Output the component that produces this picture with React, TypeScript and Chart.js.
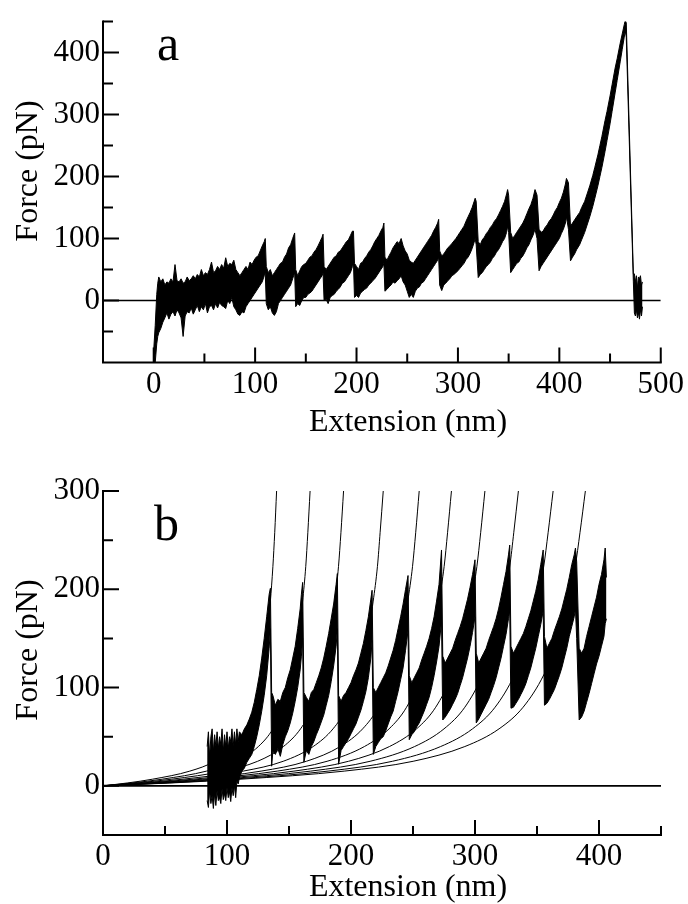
import React, { useEffect, useRef } from 'react';
import { Chart, registerables } from 'chart.js';

Chart.register(...registerables);

const SERIF = '"Liberation Serif", "Times New Roman", Times, serif';

// ---------- Panel a ----------
const A_X_RANGE = [-50, 500];
const A_Y_RANGE = [-100, 450];
const A_X_TICKS = [0, 100, 200, 300, 400, 500];
const A_X_MINOR = [50, 150, 250, 350, 450];
const A_Y_TICKS = [0, 100, 200, 300, 400];
const A_Y_MINOR = [-50, 50, 150, 250, 350, 450];
const A_ZERO_LINE = [-50, 500];

// [extension nm, lower edge pN, upper edge pN] of the noisy trace
const TRACE_A: [number, number, number][] = [
  [0, -100, -80], [1.5, -100, -40], [3, -70, 10], [4, -58, 28], [5, -52, 38], [7, -45, 30], [9, -35, 35],
  [11, -28, 25], [13, -20, 30], [15, -30, 28], [17, -22, 35], [19, -18, 30], [21, -25, 58], [23, -15, 32],
  [25, -20, 30], [27, -28, 35], [29, -58, 28], [31, -25, 30], [33, -18, 38], [35, -20, 32], [37, -12, 35],
  [39, -22, 40], [41, -15, 35], [43, -8, 42], [45, -18, 38], [47, -10, 50], [49, -15, 40], [51, -5, 45],
  [53, -20, 42], [55, -10, 50], [57, -8, 62], [59, -15, 45], [61, -5, 48], [63, -12, 55], [65, -3, 50],
  [67, -8, 58], [69, -10, 52], [71, -13, 69], [73, 0, 55], [75, -5, 60], [77, 5, 58], [79, -10, 65],
  [81, -15, 50], [83, -22, 45], [85, -24, 40], [87, -18, 45], [89, -20, 50], [91, -10, 55], [93, -5, 50],
  [95, 0, 62], [97, 5, 58], [99, 10, 65], [101, 15, 70], [103, 20, 72], [105, 25, 80], [107, 30, 88],
  [109, 40, 95], [110, 45, 100],
  [111, -5, 55], [113, -15, 45], [115, -10, 50], [117, -20, 40], [119, -24, 45], [121, -18, 50], [123, -5, 55],
  [125, 0, 60], [127, 5, 62], [129, 10, 70], [131, 15, 75], [133, 20, 85], [135, 25, 90], [137, 35, 100],
  [139, 45, 109],
  [140, -10, 50], [142, -5, 40], [144, -8, 48], [146, 0, 55], [148, 5, 58], [150, 5, 60], [152, 10, 65],
  [154, 12, 70], [156, 15, 72], [158, 20, 78], [160, 25, 82], [162, 30, 88], [164, 35, 95], [166, 40, 102],
  [167, 45, 107],
  [168, 0, 55], [170, 2, 50], [172, -5, 55], [174, 5, 60], [176, 8, 65], [178, 10, 70], [180, 15, 72],
  [182, 18, 78], [184, 22, 80], [186, 28, 85], [188, 30, 90], [190, 35, 95], [192, 40, 98], [194, 45, 105],
  [196, 55, 112], [197, 60, 112],
  [198, 5, 60], [200, 8, 55], [202, 5, 50], [204, 12, 60], [206, 15, 62], [208, 18, 68], [210, 20, 72],
  [212, 25, 78], [214, 28, 82], [216, 32, 88], [218, 35, 95], [220, 40, 100], [222, 45, 105], [224, 50, 112],
  [226, 55, 118], [227, 60, 125],
  [228, 15, 70], [230, 18, 65], [232, 22, 72], [234, 25, 78], [236, 30, 85], [238, 28, 90], [240, 32, 95],
  [242, 35, 92], [244, 40, 100], [246, 30, 88], [248, 25, 80], [250, 15, 75], [252, 5, 65], [254, 10, 62],
  [256, 5, 60], [258, 15, 65], [260, 20, 70], [262, 22, 75], [264, 28, 80], [266, 30, 85], [268, 35, 90],
  [270, 40, 95], [272, 45, 100], [274, 50, 105], [276, 55, 112], [278, 60, 118], [280, 65, 125], [281, 70, 131],
  [282, 25, 80], [284, 16, 72], [286, 25, 75], [288, 28, 80], [290, 32, 85], [292, 35, 88], [294, 40, 92],
  [296, 42, 96], [298, 45, 100], [300, 48, 105], [302, 52, 110], [304, 56, 115], [306, 60, 120], [308, 66, 128],
  [310, 70, 135], [312, 76, 142], [314, 84, 150], [316, 94, 160], [317, 100, 165], [318, 90, 160],
  [320, 37, 95], [322, 42, 90], [324, 45, 98], [326, 50, 102], [328, 55, 108], [330, 58, 112], [332, 62, 118],
  [334, 68, 122], [336, 72, 128], [338, 78, 132], [340, 82, 138], [342, 88, 145], [344, 95, 152], [346, 100, 160],
  [348, 110, 172], [349, 120, 179], [350, 110, 170],
  [352, 45, 110], [354, 50, 100], [356, 55, 105], [358, 60, 110], [360, 62, 115], [362, 68, 120], [364, 72, 125],
  [366, 78, 132], [368, 85, 140], [370, 90, 148], [372, 98, 155], [374, 105, 165], [376, 115, 179], [378, 100, 170],
  [380, 48, 115], [382, 55, 110], [384, 60, 112], [386, 65, 118], [388, 70, 122], [390, 75, 128], [392, 80, 132],
  [394, 85, 138], [396, 90, 145], [398, 95, 150], [400, 100, 158], [402, 108, 165], [404, 115, 175], [406, 125, 188],
  [407, 135, 197], [409, 115, 190],
  [411, 64, 120], [413, 70, 125], [415, 75, 130], [417, 82, 135], [420, 90, 142], [422, 98, 150], [425, 110, 160],
  [428, 125, 175], [430, 135, 185], [433, 152, 202], [435, 165, 215], [438, 185, 235], [440, 200, 250],
  [442, 215, 265], [445, 240, 290], [447, 258, 305], [450, 285, 330], [452, 305, 348], [455, 335, 375],
  [457, 355, 390], [460, 385, 415], [462, 405, 430], [464, 425, 445], [465, 435, 452], [466, 425, 448],
  [473, 30, 43], [474, -20, 43], [475, -25, 30], [476, -15, 40], [477, -28, 20], [478, -20, 38], [479, -30, 35],
  [480, -15, 40], [481, -25, 25], [482, -10, 30],
];

// ---------- Panel b ----------
const B_X_RANGE = [0, 450];
const B_Y_RANGE = [-50, 300];
const B_X_TICKS = [0, 100, 200, 300, 400];
const B_X_MINOR = [50, 150, 250, 350, 450];
const B_Y_TICKS = [0, 100, 200, 300];
const B_Y_MINOR = [-50, 50, 150, 250];
const B_ZERO_LINE = [0, 450];

const TRACE_B: [number, number, number][] = [
  [84, -15, 40], [85, -22, 55], [86, -5, 30], [87, -18, 50], [88, -10, 58], [89, -23, 35], [90, -8, 52],
  [91, -20, 40], [92, -5, 55], [93, -15, 38], [94, -12, 50], [95, -18, 42], [96, -3, 58], [97, -14, 35],
  [98, -8, 52], [99, -15, 40], [100, -2, 55], [101, -12, 38], [102, -6, 50], [103, -16, 45], [104, -2, 58],
  [105, -10, 40], [106, 0, 55], [107, -12, 42], [108, 5, 58], [109, 2, 45], [110, 8, 55], [112, 15, 52],
  [114, 18, 58], [116, 24, 62], [118, 28, 68], [120, 32, 75], [122, 40, 85], [124, 50, 98], [126, 62, 112],
  [128, 76, 130], [130, 92, 150], [132, 112, 172], [134, 140, 195], [135, 160, 201],
  [136, 20, 95], [137, 35, 92], [139, 32, 82], [141, 38, 88], [143, 30, 86], [145, 42, 95], [147, 50, 100],
  [149, 56, 110], [151, 64, 118], [153, 74, 130], [155, 86, 142], [157, 100, 160], [159, 118, 180],
  [160, 132, 195], [161, 150, 207],
  [162, 24, 95], [164, 36, 90], [166, 32, 86], [168, 40, 95], [170, 45, 98], [172, 52, 105], [174, 58, 112],
  [176, 65, 120], [178, 72, 130], [180, 82, 142], [182, 92, 155], [184, 106, 170], [186, 122, 185],
  [188, 142, 205], [189, 160, 216],
  [190, 22, 92], [192, 36, 86], [194, 40, 92], [196, 44, 95], [198, 48, 100], [200, 53, 105], [202, 58, 112],
  [204, 63, 118], [206, 70, 125], [208, 77, 135], [210, 86, 145], [212, 96, 158], [214, 110, 172],
  [216, 130, 190], [217, 148, 199],
  [218, 32, 100], [220, 40, 95], [222, 44, 100], [224, 48, 105], [226, 50, 110], [228, 56, 115], [230, 63, 122],
  [232, 70, 130], [234, 76, 138], [236, 86, 148], [238, 96, 160], [240, 108, 172], [242, 120, 185],
  [244, 138, 200], [246, 158, 214],
  [247, 47, 112], [249, 52, 105], [251, 55, 110], [253, 60, 115], [255, 64, 120], [257, 70, 128], [259, 76, 135],
  [261, 83, 142], [263, 90, 150], [265, 100, 160], [267, 112, 172], [269, 126, 188], [271, 142, 205],
  [273, 168, 240],
  [274, 67, 132], [276, 70, 125], [278, 74, 130], [280, 78, 135], [282, 83, 140], [284, 88, 148], [286, 94, 155],
  [288, 102, 162], [290, 110, 170], [292, 120, 180], [294, 130, 190], [296, 142, 202], [298, 156, 215],
  [300, 172, 230],
  [301, 64, 135], [303, 68, 125], [305, 73, 130], [307, 78, 135], [309, 83, 140], [311, 88, 148], [313, 95, 155],
  [315, 102, 162], [317, 110, 170], [319, 120, 180], [321, 130, 192], [323, 142, 205], [325, 154, 218],
  [327, 170, 235], [328, 178, 245],
  [329, 79, 142], [331, 80, 135], [333, 84, 140], [335, 88, 145], [337, 93, 150], [339, 98, 155], [341, 104, 162],
  [343, 112, 170], [345, 120, 178], [347, 130, 188], [349, 140, 198], [351, 152, 210], [353, 164, 225],
  [355, 178, 240],
  [356, 82, 152], [358, 84, 140], [360, 88, 145], [362, 93, 150], [364, 98, 158], [366, 105, 165], [368, 112, 172],
  [370, 120, 180], [372, 130, 190], [374, 140, 200], [376, 152, 212], [378, 162, 225], [380, 172, 235],
  [381, 180, 242], [382, 150, 228],
  [384, 67, 140], [386, 70, 135], [388, 76, 140], [390, 85, 152], [392, 94, 162], [394, 104, 172], [396, 114, 182],
  [398, 124, 192], [400, 132, 205], [402, 142, 215], [404, 152, 230], [405, 165, 242], [406, 170, 212],
];

// worm-like-chain fit curves: force samples and, per curve, the extension at each force
const WLC_FORCE = [0, 3, 6.8, 15, 25, 40, 58, 80, 113, 148, 188, 223, 258, 300];
const WLC_X: number[][] = [
  [0, 20, 40, 70, 90, 105, 115, 122, 128, 132, 135, 137, 138.5, 140],
  [0, 23.9, 47.8, 83.5, 107.4, 125.3, 137.1, 145.5, 152.6, 157.5, 161, 163.5, 165.2, 167],
  [0, 27.7, 55.5, 97, 124.7, 145.5, 159.3, 169, 177.3, 182.9, 187, 189.9, 191.9, 194],
  [0, 32.3, 64.6, 113, 145.3, 169.5, 185.5, 196.8, 206.6, 213.1, 217.9, 221.3, 223.5, 226],
  [0, 36.5, 72.9, 127.5, 164, 191.3, 209.4, 222.1, 233.1, 240.5, 245.8, 249.6, 252.2, 255],
  [0, 40.2, 80.4, 140.5, 180.7, 210.8, 230.7, 244.8, 256.8, 265, 270.9, 275.1, 277.9, 281],
  [0, 44, 88.1, 154, 198, 231, 252.9, 268.3, 281.5, 290.4, 296.9, 301.5, 304.6, 308],
  [0, 47.9, 95.8, 167.5, 215.4, 251.3, 275, 291.8, 306.2, 315.9, 322.9, 328, 331.3, 335],
  [0, 51.9, 103.8, 181.5, 233.4, 272.3, 298, 316.2, 331.8, 342.3, 349.9, 355.4, 359, 363],
  [0, 55.6, 111.3, 194.5, 250.1, 291.8, 319.4, 338.8, 355.5, 366.8, 375, 380.8, 384.7, 389],
];

const X_TITLE = 'Extension (nm)';
const Y_TITLE = 'Force (pN)';

type Panel = {
  letter: string;
  height: number;
  padTop: number;
  padRight: number;
  yWidth: number;
  xHeight: number;
  xRange: number[];
  yRange: number[];
  xTicks: number[];
  xMinor: number[];
  yTicks: number[];
  yMinor: number[];
  zero: number[];
  trace: [number, number, number][];
  curves: number[][];
  letterPos: [number, number];
  xTitlePos: [number, number];
  yTitlePos: [number, number];
  xLabelPad: number;
};

const PANEL_A: Panel = {
  letter: 'a', height: 450, padTop: 18.75, padRight: 27, yWidth: 103, xHeight: 87.5,
  xRange: A_X_RANGE, yRange: A_Y_RANGE, xTicks: A_X_TICKS, xMinor: A_X_MINOR,
  yTicks: A_Y_TICKS, yMinor: A_Y_MINOR, zero: A_ZERO_LINE, trace: TRACE_A, curves: [],
  letterPos: [157, 60], xTitlePos: [408, 431], yTitlePos: [37, 171], xLabelPad: 4,
};

const PANEL_B: Panel = {
  letter: 'b', height: 454, padTop: 41, padRight: 27, yWidth: 103, xHeight: 69,
  xRange: B_X_RANGE, yRange: B_Y_RANGE, xTicks: B_X_TICKS, xMinor: B_X_MINOR,
  yTicks: B_Y_TICKS, yMinor: B_Y_MINOR, zero: B_ZERO_LINE, trace: TRACE_B, curves: WLC_X,
  letterPos: [154, 90], xTitlePos: [408, 446], yTitlePos: [37, 200], xLabelPad: 3,
};

function framePlugin(p: Panel) {
  return {
    id: 'frame_' + p.letter,
    afterDatasetsDraw(chart: any) {
      const { ctx } = chart;
      const xs = chart.scales.x;
      const ys = chart.scales.y;
      const x0 = xs.getPixelForValue(p.xRange[0]);
      const x1 = xs.getPixelForValue(p.xRange[1]);
      const y0 = ys.getPixelForValue(p.yRange[0]);
      const y1 = ys.getPixelForValue(p.yRange[1]);
      ctx.save();
      ctx.strokeStyle = '#000';
      ctx.lineWidth = 2;
      ctx.lineCap = 'square';
      ctx.beginPath();
      ctx.moveTo(x0, y1);
      ctx.lineTo(x0, y0);
      ctx.lineTo(x1, y0);
      ctx.stroke();
      ctx.lineCap = 'butt';
      ctx.beginPath();
      p.xTicks.forEach((v) => {
        const px = xs.getPixelForValue(v);
        ctx.moveTo(px, y0);
        ctx.lineTo(px, y0 - 15);
      });
      p.xMinor.forEach((v) => {
        const px = xs.getPixelForValue(v);
        ctx.moveTo(px, y0);
        ctx.lineTo(px, y0 - 9);
      });
      p.yTicks.forEach((v) => {
        const py = ys.getPixelForValue(v);
        ctx.moveTo(x0, py);
        ctx.lineTo(x0 + 16, py);
      });
      p.yMinor.forEach((v) => {
        const py = ys.getPixelForValue(v);
        ctx.moveTo(x0, py);
        ctx.lineTo(x0 + 10, py);
      });
      ctx.stroke();
      ctx.restore();
    },
    afterDraw(chart: any) {
      const { ctx } = chart;
      ctx.save();
      ctx.fillStyle = '#000';
      ctx.textBaseline = 'alphabetic';
      ctx.font = `50px ${SERIF}`;
      ctx.textAlign = 'left';
      ctx.fillText(p.letter, p.letterPos[0], p.letterPos[1]);
      ctx.font = `32px ${SERIF}`;
      ctx.textAlign = 'center';
      ctx.fillText(X_TITLE, p.xTitlePos[0], p.xTitlePos[1]);
      ctx.translate(p.yTitlePos[0], p.yTitlePos[1]);
      ctx.rotate(-Math.PI / 2);
      ctx.fillText(Y_TITLE, 0, 0);
      ctx.restore();
    },
  };
}

function buildConfig(p: Panel): any {
  const datasets: any[] = [];
  datasets.push({
    data: p.trace.map((t) => ({ x: t[0], y: t[1] })),
    borderColor: '#000', borderWidth: 1, pointRadius: 0, fill: false,
  });
  datasets.push({
    data: p.trace.map((t) => ({ x: t[0], y: t[2] })),
    borderColor: '#000', borderWidth: 1, pointRadius: 0, fill: '-1', backgroundColor: '#000',
  });
  datasets.push({
    data: [{ x: p.zero[0], y: 0 }, { x: p.zero[1], y: 0 }],
    borderColor: '#000', borderWidth: 1.6, pointRadius: 0, fill: false,
  });
  p.curves.forEach((xsArr) => {
    datasets.push({
      data: xsArr.map((x, i) => ({ x, y: WLC_FORCE[i] })),
      borderColor: '#000', borderWidth: 1, pointRadius: 0, fill: false,
      cubicInterpolationMode: 'monotone',
    });
  });
  const tickFont = { family: SERIF, size: 31 };
  return {
    type: 'line',
    data: { datasets },
    options: {
      animation: false,
      responsive: false,
      maintainAspectRatio: false,
      events: [],
      layout: { padding: { left: 0, right: p.padRight, top: p.padTop, bottom: 0 } },
      plugins: { legend: { display: false }, tooltip: { enabled: false } },
      scales: {
        x: {
          type: 'linear', min: p.xRange[0], max: p.xRange[1],
          grid: { display: false, drawTicks: false },
          border: { display: false },
          ticks: { font: tickFont, color: '#000', padding: p.xLabelPad, maxRotation: 0, autoSkip: false },
          afterBuildTicks: (s: any) => { s.ticks = p.xTicks.map((v) => ({ value: v })); },
          afterFit: (s: any) => { s.height = p.xHeight; },
        },
        y: {
          type: 'linear', min: p.yRange[0], max: p.yRange[1],
          grid: { display: false, drawTicks: false },
          border: { display: false },
          ticks: { font: tickFont, color: '#000', padding: 3, autoSkip: false },
          afterBuildTicks: (s: any) => { s.ticks = p.yTicks.map((v) => ({ value: v })); },
          afterFit: (s: any) => { s.width = p.yWidth; },
        },
      },
    },
    plugins: [framePlugin(p)],
  };
}

export default function App() {
  const refA = useRef<HTMLCanvasElement | null>(null);
  const refB = useRef<HTMLCanvasElement | null>(null);

  useEffect(() => {
    document.body.style.margin = '0';
    document.body.style.background = '#fff';
    const charts: Chart[] = [];
    if (refA.current) charts.push(new Chart(refA.current, buildConfig(PANEL_A)));
    if (refB.current) charts.push(new Chart(refB.current, buildConfig(PANEL_B)));
    return () => charts.forEach((c) => c.destroy());
  }, []);

  return (
    <div style={{ position: 'relative', width: 688, height: 904, background: '#fff' }}>
      <canvas ref={refA} width={688} height={450} style={{ position: 'absolute', left: 0, top: 0, display: 'block' }} />
      <canvas ref={refB} width={688} height={454} style={{ position: 'absolute', left: 0, top: 450, display: 'block' }} />
    </div>
  );
}
